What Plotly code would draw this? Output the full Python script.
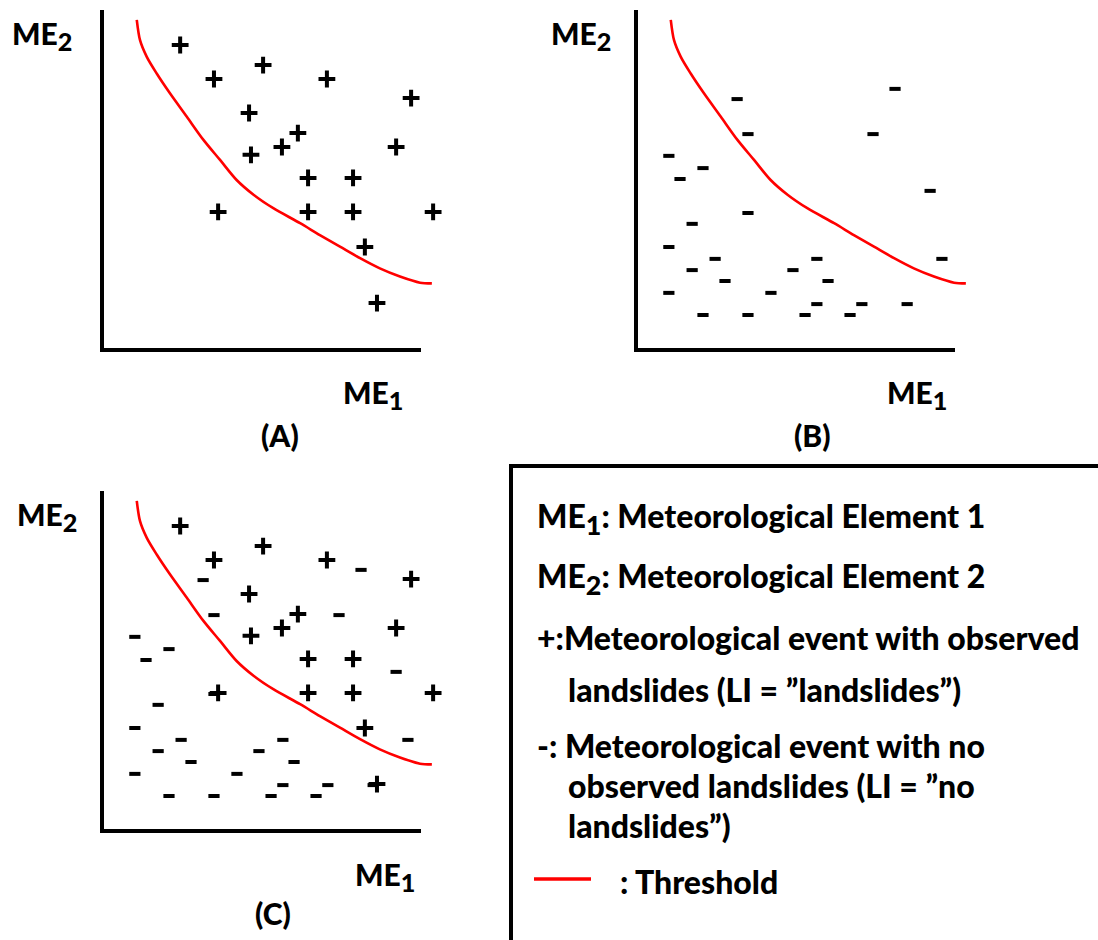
import plotly.graph_objects as go

W, H = 1098, 940

# ---------------- data (axis units: 0..100 along each drawn axis) ----------------
plus_x = [24.5, 35.1, 50.5, 70.5, 96.9, 46.1, 61.4, 56.4, 46.7, 92.2,
          64.6, 78.7, 36.4, 64.6, 78.7, 103.8, 82.4, 86.2]
plus_y = [89.7, 79.7, 83.8, 79.7, 74.1, 69.7, 63.8, 59.7, 57.4, 59.7,
          50.6, 50.6, 40.6, 40.6, 40.6, 40.6, 30.3, 13.8]

minus_x = [31.7, 35.1, 81.2, 74.3, 10.3, 21.0, 13.8, 92.2, 35.1, 17.6,
           10.3, 24.8, 56.7, 95.9, 17.6, 49.2, 27.9, 60.2, 10.3, 42.3,
           56.7, 70.8, 85.0, 21.0, 35.1, 53.0, 67.1]
minus_y = [73.8, 63.5, 76.8, 63.5, 57.1, 53.5, 50.3, 46.8, 40.3, 37.1,
           30.3, 26.8, 26.8, 26.8, 23.5, 23.5, 20.3, 20.3, 16.8, 16.8,
           13.5, 13.5, 13.5, 10.3, 10.3, 10.3, 10.3]

threshold_x = [10.9, 11.9, 14.0, 17.1, 21.3, 26.6, 31.8, 37.0, 42.2, 47.6,
               53.7, 62.1, 68.3, 74.6, 80.9, 87.1, 93.4, 99.7, 103.4]
threshold_y = [97.1, 91.2, 86.3, 81.4, 75.5, 68.6, 61.8, 55.9, 50.0, 45.6,
               41.7, 37.3, 33.8, 30.4, 27.0, 24.0, 21.6, 19.8, 19.6]

SUB1 = "<sub><span style='font-size:120%'>1</span></sub>"
SUB2 = "<sub><span style='font-size:120%'>2</span></sub>"
panel_names = ["(A)", "(B)", "(C)"]
x_label = "ME" + SUB1
y_label = "ME" + SUB2
legend_lines = [
    "ME" + SUB1 + ": Meteorological Element 1",
    "ME" + SUB2 + ": Meteorological Element 2",
    "+:Meteorological event with observed",
    "landslides (LI = ”landslides”)",
    "-: Meteorological event with no",
    "observed landslides (LI = ”no",
    "landslides”)",
    ": Threshold",
]

# ---------------- layout helpers ----------------
FONT = "Lato, Open Sans, Liberation Sans, Arial, sans-serif"
SX, SY = 3.19, 3.4  # px per axis unit

def fx(p):
    return p / W

def fy(p):
    return (H - p) / H

# panel: axis suffix, origin pixel (x, y), show plus, show minus
panels = [
    ("", 102, 350, True, False),
    ("2", 636, 350, False, True),
    ("3", 102, 831, True, True),
]

fig = go.Figure()
shapes = []
annotations = []

for i, (sfx, ox, oy, show_plus, show_minus) in enumerate(panels):
    xa, ya = "x" + sfx, "y" + sfx
    fig.add_trace(go.Scatter(x=threshold_x, y=threshold_y, mode="lines",
                             line=dict(color="#ff0000", width=2.6, shape="spline", smoothing=0.8),
                             xaxis=xa, yaxis=ya, showlegend=False, hoverinfo="skip"))
    if show_plus:
        fig.add_trace(go.Scatter(x=plus_x, y=plus_y, mode="markers",
                                 marker=dict(symbol="cross-thin", size=12,
                                             line=dict(color="black", width=4)),
                                 xaxis=xa, yaxis=ya, showlegend=False,
                                 hoverinfo="skip", cliponaxis=False))
    if show_minus:
        fig.add_trace(go.Scatter(x=minus_x, y=minus_y, mode="markers",
                                 marker=dict(symbol="line-ew", size=8,
                                             line=dict(color="black", width=4)),
                                 xaxis=xa, yaxis=ya, showlegend=False,
                                 hoverinfo="skip", cliponaxis=False))
    axis_common = dict(visible=False, fixedrange=True)
    fig.update_layout(**{
        "xaxis" + sfx: dict(domain=[fx(ox - 10), fx(ox + 348)],
                            range=[-10 / SX, 348 / SX], anchor=ya, **axis_common),
        "yaxis" + sfx: dict(domain=[fy(oy + 10), fy(oy - 345)],
                            range=[-10 / SY, 345 / SY], anchor=xa, **axis_common),
    })
    shapes.append(dict(type="path", xref=xa, yref=ya, path="M0,100 L0,0 L100,0",
                       line=dict(color="black", width=4)))

# axis labels and panel names (pixel positions)
lab_font = dict(family=FONT, size=30, color="black", weight=900)
name_font = dict(family=FONT, size=30, color="black", weight=900)
ylab_pos = [(10, 35), (549, 35), (15, 516)]
xlab_pos = [(341, 394), (885, 394), (353, 876)]
name_pos = [(280, 435), (812, 435), (273, 913)]
for (yx, yy), (xx, xy), (nx, ny), name in zip(ylab_pos, xlab_pos, name_pos, panel_names):
    annotations.append(dict(x=fx(yx), y=fy(yy), xref="paper", yref="paper",
                            text=y_label, showarrow=False,
                            xanchor="left", yanchor="middle", font=lab_font))
    annotations.append(dict(x=fx(xx), y=fy(xy), xref="paper", yref="paper",
                            text=x_label, showarrow=False,
                            xanchor="left", yanchor="middle", font=lab_font))
    annotations.append(dict(x=fx(nx), y=fy(ny), xref="paper", yref="paper",
                            text=name, showarrow=False,
                            xanchor="center", yanchor="middle", font=name_font))

# legend box
shapes.append(dict(type="rect", xref="paper", yref="paper",
                   x0=fx(511), x1=fx(1120), y0=fy(960), y1=fy(466),
                   line=dict(color="black", width=4)))
shapes.append(dict(type="line", xref="paper", yref="paper",
                   x0=fx(534), x1=fx(591), y0=fy(879), y1=fy(879),
                   line=dict(color="#ff0000", width=3.5)))
leg_font = dict(family=FONT, size=32, color="black", weight=900)
leg_pos = [(535, 518), (535, 578), (535, 637), (566, 689), (535, 745),
           (566, 785), (566, 825), (618, 881)]
for (lx, ly), txt in zip(leg_pos, legend_lines):
    annotations.append(dict(x=fx(lx), y=fy(ly), xref="paper", yref="paper",
                            text=txt, showarrow=False,
                            xanchor="left", yanchor="middle", font=leg_font))

fig.update_layout(width=W, height=H, margin=dict(l=0, r=0, t=0, b=0),
                  paper_bgcolor="white", plot_bgcolor="white",
                  shapes=shapes, annotations=annotations, hovermode=False)

fig.write_html("out.html", config={"displayModeBar": False},
               post_script="document.body.style.margin='0';document.body.style.overflow='hidden';")
